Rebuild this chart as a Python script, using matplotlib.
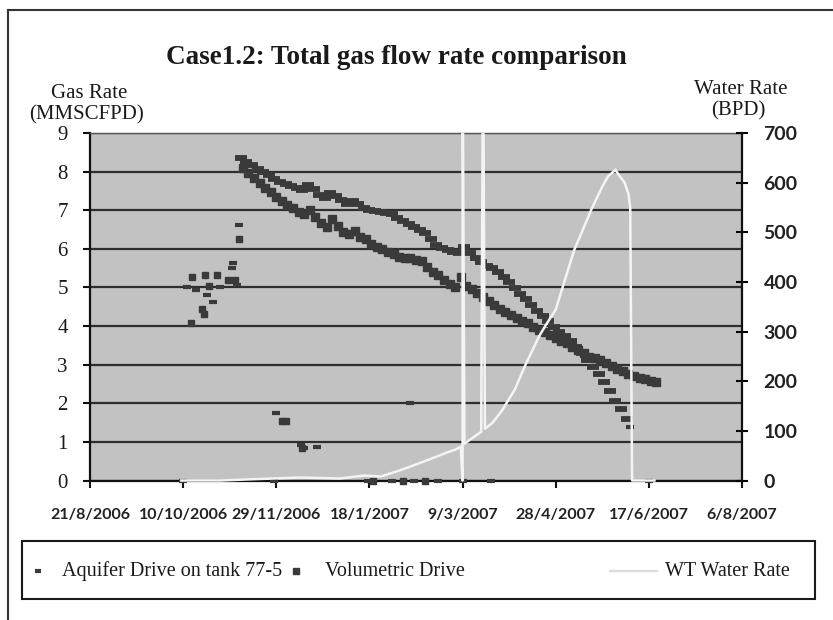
import matplotlib
matplotlib.use("Agg")
import matplotlib.pyplot as plt
from matplotlib.lines import Line2D
from matplotlib.patches import Rectangle
import pandas as pd

# ---------------------------------------------------------------------------
# Data
# ---------------------------------------------------------------------------
# Main decline curves, sampled every 3 days
sample_step = "3D"
aquifer_start = "2006-11-10"
aquifer_rate = [
    8.36, 8.26, 8.17, 8.08, 7.99, 7.90, 7.81, 7.73, 7.67, 7.62,
    7.57, 7.52, 7.66, 7.55, 7.40, 7.31, 7.44, 7.38, 7.27, 7.17,
    7.25, 7.16, 7.06, 7.00, 6.98, 6.96, 6.93, 6.89, 6.80, 6.72,
    6.65, 6.57, 6.50, 6.40, 6.26, 6.10, 6.03, 5.97, 5.92, 5.88,
    6.05, 5.88, 5.75, 5.66, 5.56, 5.50, 5.40, 5.27, 5.14, 4.98,
    4.84, 4.70, 4.55, 4.40, 4.26, 4.12, 3.97, 3.85, 3.73, 3.62,
    3.47, 3.29, 3.12, 2.95, 2.76, 2.55, 2.32, 2.07, 1.85, 1.60,
]
volumetric_start = "2006-11-11"
volumetric_rate = [
    8.10, 7.97, 7.84, 7.71, 7.58, 7.46, 7.35, 7.24, 7.14, 7.05,
    6.95, 6.90, 7.00, 6.82, 6.68, 6.56, 6.78, 6.58, 6.44, 6.38,
    6.47, 6.30, 6.25, 6.13, 6.06, 5.99, 5.92, 5.86, 5.80, 5.77,
    5.75, 5.72, 5.68, 5.54, 5.41, 5.32, 5.20, 5.09, 5.00, 5.28,
    5.05, 4.95, 4.85, 4.74, 4.64, 4.54, 4.45, 4.37, 4.28, 4.21,
    4.14, 4.07, 3.98, 3.91, 3.85, 3.77, 3.69, 3.62, 3.56, 3.46,
    3.37, 3.30, 3.21, 3.16, 3.11, 3.04, 2.96, 2.89, 2.83, 2.76,
    2.70, 2.66, 2.62, 2.58, 2.55,
]

# Scattered history points
aquifer_extra_dates = [
    "2006-10-10", "2006-10-12", "2006-10-17", "2006-10-23", "2006-10-26",
    "2006-10-30", "2006-11-05", "2006-11-06", "2006-11-08", "2006-11-09",
    "2006-11-28", "2006-11-29", "2006-12-12", "2006-12-14", "2006-12-21",
    "2007-01-17", "2007-01-30", "2007-02-09", "2007-02-11", "2007-02-24",
    "2007-03-09", "2007-03-24", "2007-06-07", "2007-06-17",
]
aquifer_extra_rate = [
    0.0, 5.00, 4.93, 4.80, 4.63,
    5.00, 5.50, 5.63, 5.06, 6.62,
    0.0, 1.75, 0.92, 0.84, 0.87,
    0.0, 0.0, 2.00, 0.0, 0.0,
    0.0, 0.0, 1.39, 0.0,
]
volumetric_extra_dates = [
    "2006-10-14", "2006-10-15", "2006-10-20", "2006-10-21", "2006-10-22",
    "2006-10-24", "2006-10-28", "2006-11-03", "2006-11-07", "2006-11-09",
    "2006-12-02", "2006-12-04", "2006-12-13", "2007-01-20", "2007-02-05",
    "2007-02-17",
]
volumetric_extra_rate = [
    4.08, 5.27, 4.45, 4.30, 5.32,
    5.05, 5.32, 5.20, 5.20, 6.26,
    1.54, 1.54, 0.84, 0.0, 0.0,
    0.0,
]

# Water rate (BPD)
water_dates = [
    "2006-10-09", "2006-10-30", "2006-11-20", "2006-12-12", "2007-01-02",
    "2007-01-15", "2007-01-24", "2007-02-03", "2007-02-14", "2007-02-23",
    "2007-03-01", "2007-03-05", "2007-03-08", "2007-03-09", "2007-03-09",
    "2007-03-10", "2007-03-14", "2007-03-19", "2007-03-20", "2007-03-21",
    "2007-03-25", "2007-03-30", "2007-04-06", "2007-04-12", "2007-04-19",
    "2007-04-23", "2007-04-28", "2007-05-03", "2007-05-08", "2007-05-12",
    "2007-05-17", "2007-05-23", "2007-05-26", "2007-05-30", "2007-06-01",
    "2007-06-04", "2007-06-06", "2007-06-07", "2007-06-08", "2007-06-20",
]
water_rate = [
    0, 0, 3, 6, 4,
    10, 8, 20, 35, 48,
    57, 62, 68, 0, 900,
    74, 85, 98, 900, 104,
    116, 140, 183, 235, 290,
    315, 344, 405, 465, 500,
    545, 592, 612, 626, 615,
    600, 578, 550, 0, 0,
]

x_tick_dates = ["2006-08-21", "2006-10-10", "2006-11-29", "2007-01-18",
                "2007-03-09", "2007-04-28", "2007-06-17", "2007-08-06"]
gas_ticks = [0, 1, 2, 3, 4, 5, 6, 7, 8, 9]
water_ticks = [0, 100, 200, 300, 400, 500, 600, 700]

title = "Case1.2: Total gas flow rate comparison"
series_names = ["Aquifer Drive on tank 77-5", "Volumetric Drive", "WT Water Rate"]

# ---------------------------------------------------------------------------
# Figure
# ---------------------------------------------------------------------------
W, H = 833, 620
fig = plt.figure(figsize=(W / 100, H / 100), dpi=100)
fig.patch.set_facecolor("white")

def fx(px):
    return px / W

def fy(py):
    return 1 - py / H

ax = fig.add_axes([fx(90), fy(480.5), fx(742) - fx(90), fy(133) - fy(480.5)])
ax.set_facecolor("#c2c2c2")
ax2 = ax.twinx()

SERIF = "Liberation Serif"
SANS = "Lato"
mark_col = "#3a3a3a"

aq_dates = pd.date_range(aquifer_start, periods=len(aquifer_rate), freq=sample_step)
vo_dates = pd.date_range(volumetric_start, periods=len(volumetric_rate), freq=sample_step)

ax.plot(vo_dates, volumetric_rate, ls="none", marker="s", ms=5.4,
        color=mark_col, mec=mark_col, zorder=3)
ax.plot(pd.to_datetime(volumetric_extra_dates), volumetric_extra_rate, ls="none",
        marker="s", ms=4.2, color=mark_col, mec=mark_col, zorder=3, clip_on=False)
ax.plot(aq_dates, aquifer_rate, ls="none", marker="_", ms=8.5, mew=4.2,
        color=mark_col, zorder=3)
ax.plot(pd.to_datetime(aquifer_extra_dates), aquifer_extra_rate, ls="none",
        marker="_", ms=6, mew=3.0, color=mark_col, zorder=3, clip_on=False)

x0 = pd.Timestamp(x_tick_dates[0])
x1 = pd.Timestamp(x_tick_dates[-1])
ax.set_xlim(x0, x1)
ax.set_ylim(0, 9)
ax.set_yticks(gas_ticks)
ax.set_yticklabels([str(t) for t in gas_ticks], fontfamily=SERIF, fontsize=15)
ticks = pd.to_datetime(x_tick_dates)
ax.set_xticks(ticks)
ax.set_xticklabels([f"{d.day}/{d.month}/{d.year}" for d in ticks],
                   fontfamily=SANS, fontsize=11.5, fontweight="bold")
ax.tick_params(axis="x", direction="out", length=5, width=1.5, pad=15,
               colors="#111111", labelcolor="#222222")
ax.tick_params(axis="y", direction="out", length=5, width=1.5, pad=11,
               colors="#111111", labelcolor="#1a1a1a")

ax.grid(axis="y", color="#2e2e2e", lw=1.6, zorder=1)
ax.set_axisbelow(True)
for s in ["left", "bottom"]:
    ax.spines[s].set_color("#111111")
    ax.spines[s].set_linewidth(1.6)
ax.spines["top"].set_color("#555555")
ax.spines["top"].set_linewidth(1.0)
ax.spines["right"].set_visible(False)

# Water rate on the secondary axis
wline, = ax2.plot(pd.to_datetime(water_dates), water_rate, color="#f4f4f4",
                  lw=1.8, zorder=3)
wline.set_clip_path(Rectangle((0, -0.012), 1, 1.012, transform=ax2.transAxes))
ax2.set_ylim(0, 700)
ax2.set_xlim(x0, x1)
ax2.set_yticks(water_ticks)
ax2.set_yticklabels([str(t) for t in water_ticks], fontfamily=SANS,
                    fontsize=14, fontweight="bold", color="#222222")
ax2.tick_params(axis="y", direction="inout", length=9, width=1.5, pad=11)
for s in ["left", "bottom", "top"]:
    ax2.spines[s].set_visible(False)
ax2.spines["right"].set_color("#111111")
ax2.spines["right"].set_linewidth(1.6)

# Titles and axis captions
fig.text(fx(396), fy(58), title, ha="center", va="center",
         fontfamily=SERIF, fontweight="bold", fontsize=19.5, color="#1a1a1a")
cap = dict(ha="center", va="center", fontfamily=SERIF, fontsize=15, color="#1a1a1a")
fig.text(fx(89), fy(94), "Gas Rate", **cap)
fig.text(fx(87), fy(115), "(MMSCFPD)", **cap)
fig.text(fx(741), fy(89), "Water Rate", **cap)
fig.text(fx(738), fy(111), "(BPD)", **cap)

# Legend box
fig.add_artist(Rectangle((fx(22), fy(599)), fx(815) - fx(22), fy(541) - fy(599),
                         transform=fig.transFigure, facecolor="white",
                         edgecolor="#1a1a1a", lw=1.5))
ly = fy(571)
fig.add_artist(Line2D([fx(38)], [ly], transform=fig.transFigure, ls="none",
                      marker="_", ms=5, mew=3, color=mark_col))
fig.text(fx(62), ly, series_names[0], ha="left", va="center",
         fontfamily=SERIF, fontsize=14.5, color="#1a1a1a")
fig.add_artist(Line2D([fx(296)], [ly], transform=fig.transFigure, ls="none",
                      marker="s", ms=4, color=mark_col))
fig.text(fx(325), ly, series_names[1], ha="left", va="center",
         fontfamily=SERIF, fontsize=14.5, color="#1a1a1a")
fig.add_artist(Line2D([fx(610), fx(657)], [ly, ly], transform=fig.transFigure,
                      color="#dddddd", lw=1.7))
fig.text(fx(665), ly, series_names[2], ha="left", va="center",
         fontfamily=SERIF, fontsize=14.5, color="#1a1a1a")

# Outer frame
fig.add_artist(Line2D([fx(8), 1], [fy(10), fy(10)], transform=fig.transFigure,
                      color="#333333", lw=1.5))
fig.add_artist(Line2D([fx(8), fx(8)], [0, fy(10)], transform=fig.transFigure,
                      color="#333333", lw=1.5))

fig.savefig("out.png", dpi=100)
